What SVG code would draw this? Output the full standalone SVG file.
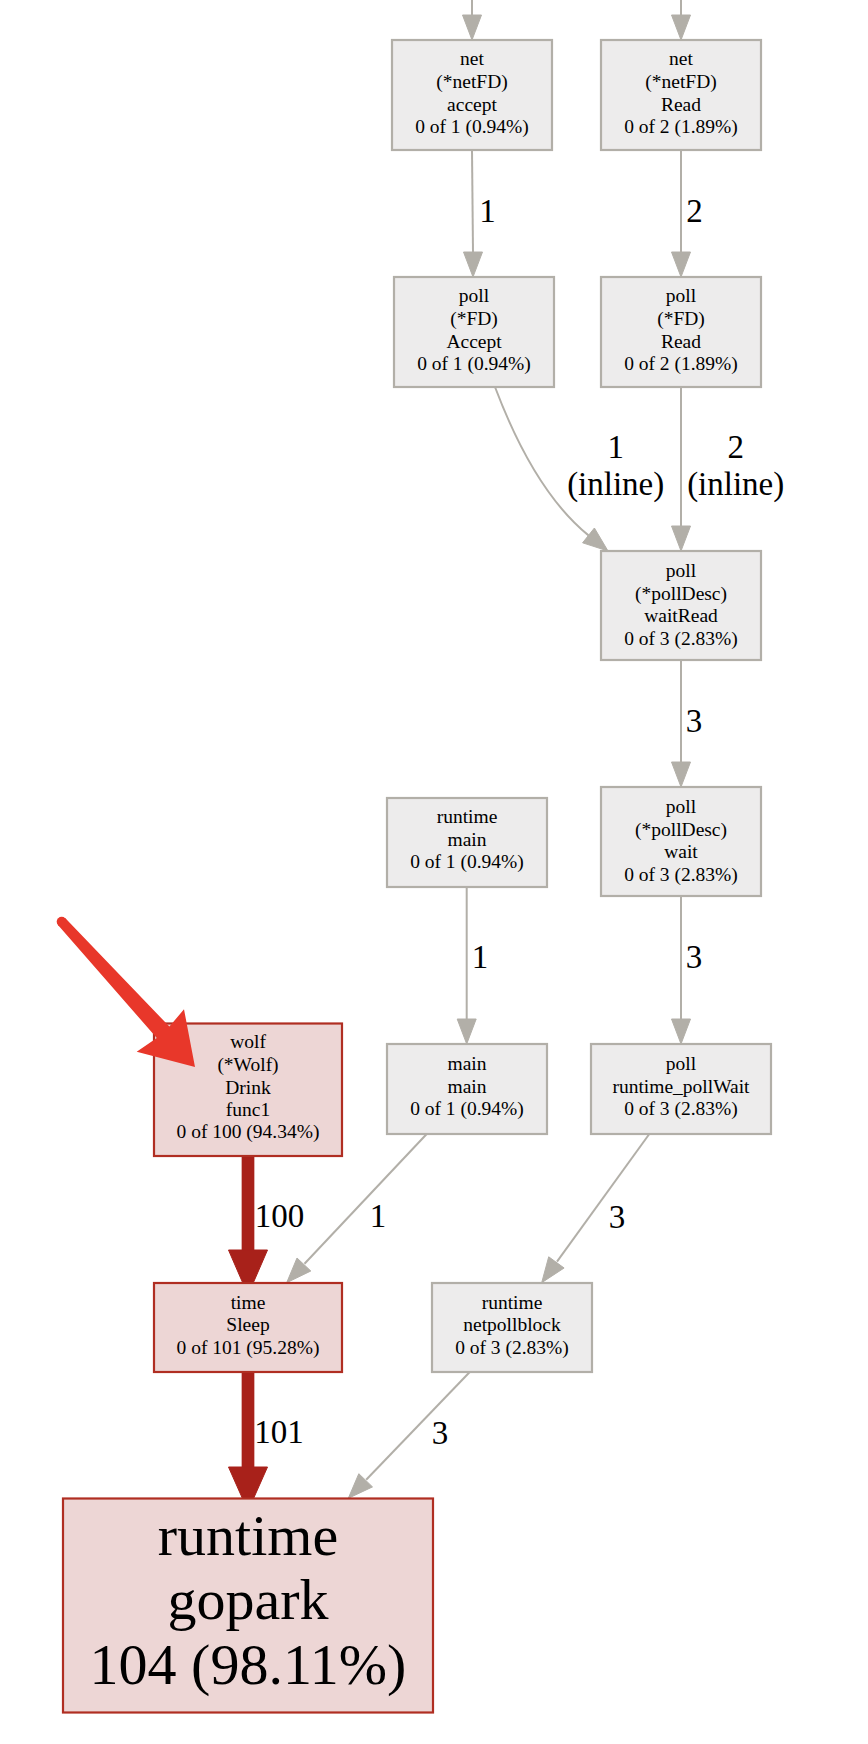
<svg xmlns="http://www.w3.org/2000/svg" width="868" height="1744" viewBox="0 0 868 1744">
<defs>
<style>
.bg{fill:#ffffff}
.gn{fill:#edecec;stroke:#b2afa8;stroke-width:2.2}
.rn{fill:#edd6d5;stroke:#b02e22;stroke-width:2.2}
.t{font-family:"Liberation Serif","Times New Roman",serif;font-size:19.5px;fill:#000;text-anchor:middle}
.big{font-family:"Liberation Serif","Times New Roman",serif;font-size:58px;fill:#000;text-anchor:middle}
.el{font-family:"Liberation Serif","Times New Roman",serif;font-size:33px;fill:#000;text-anchor:middle}
.ge{fill:none;stroke:#b2afa8;stroke-width:2}
.gh{fill:#b2afa8;stroke:#b2afa8;stroke-width:1}
.re{fill:none;stroke:#a8211a;stroke-width:12.7}
.rh{fill:#a8211a;stroke:#a8211a;stroke-width:1}
</style>
</defs>
<rect class="bg" x="0" y="0" width="868" height="1744"/>

<g id="connectors">
  <line class="ge" x1="472" y1="0" x2="472" y2="16"/>
  <polygon class="gh" points="462.5,15 481.5,15 472,40"/>
  <line class="ge" x1="681" y1="0" x2="681" y2="16"/>
  <polygon class="gh" points="671.5,15 690.5,15 681,40"/>
  <line class="ge" x1="472" y1="150" x2="473" y2="253"/>
  <polygon class="gh" points="463.5,252 482.5,252 473,277"/>
  <text class="el" x="487.5" y="222">1</text>
  <line class="ge" x1="681" y1="150" x2="681" y2="253"/>
  <polygon class="gh" points="671.5,252 690.5,252 681,277"/>
  <text class="el" x="694.5" y="222">2</text>
  <path class="ge" d="M495,387 C515,440 545,500 588.5,535.4"/>
  <polygon class="gh" points="582.6,542.8 594.4,528 608,551"/>
  <text class="el" x="615.7" y="458">1</text>
  <text class="el" x="615.7" y="495">(inline)</text>
  <line class="ge" x1="681" y1="387" x2="681" y2="527"/>
  <polygon class="gh" points="671.5,526 690.5,526 681,551"/>
  <text class="el" x="735.7" y="458">2</text>
  <text class="el" x="735.7" y="495">(inline)</text>
  <line class="ge" x1="681" y1="660" x2="681" y2="763"/>
  <polygon class="gh" points="671.5,762 690.5,762 681,787"/>
  <text class="el" x="694" y="731.5">3</text>
  <line class="ge" x1="466.7" y1="887" x2="466.7" y2="1020"/>
  <polygon class="gh" points="457.2,1019 476.2,1019 466.7,1044"/>
  <text class="el" x="480" y="968">1</text>
  <line class="ge" x1="681" y1="896" x2="681" y2="1020"/>
  <polygon class="gh" points="671.5,1019 690.5,1019 681,1044"/>
  <text class="el" x="694" y="967.5">3</text>
  <line class="re" x1="248" y1="1156" x2="248" y2="1252"/>
  <polygon class="rh" points="228.5,1250 267.5,1250 248,1295"/>
  <text class="el" x="279.5" y="1227">100</text>
  <line class="ge" x1="426.7" y1="1134" x2="304.5" y2="1263.8"/>
  <polygon class="gh" points="310.8,1271 297,1258 286.7,1282.7"/>
  <text class="el" x="378" y="1227">1</text>
  <line class="ge" x1="649.3" y1="1134" x2="557" y2="1261.6"/>
  <polygon class="gh" points="564.1,1268 548.7,1256.8 541.7,1282.7"/>
  <text class="el" x="617" y="1227.5">3</text>
  <line class="re" x1="248" y1="1372" x2="248" y2="1469"/>
  <polygon class="rh" points="228.5,1467 267.5,1467 248,1511"/>
  <text class="el" x="279" y="1443">101</text>
  <line class="ge" x1="470" y1="1371.7" x2="366.2" y2="1479.7"/>
  <polygon class="gh" points="372.5,1486.9 358.8,1473.7 348.3,1498.3"/>
  <text class="el" x="440" y="1443.5">3</text>
</g>

<g id="node-net-accept">
  <rect class="gn" x="392" y="40" width="160" height="110"/>
  <text class="t" x="472" y="65">net</text>
  <text class="t" x="472" y="88">(*netFD)</text>
  <text class="t" x="472" y="110.5">accept</text>
  <text class="t" x="472" y="133">0 of 1 (0.94%)</text>
</g>
<g id="node-net-read">
  <rect class="gn" x="601" y="40" width="160" height="110"/>
  <text class="t" x="681" y="65">net</text>
  <text class="t" x="681" y="88">(*netFD)</text>
  <text class="t" x="681" y="110.5">Read</text>
  <text class="t" x="681" y="133">0 of 2 (1.89%)</text>
</g>
<g id="node-poll-accept">
  <rect class="gn" x="394" y="277" width="160" height="110"/>
  <text class="t" x="474" y="302">poll</text>
  <text class="t" x="474" y="325">(*FD)</text>
  <text class="t" x="474" y="347.5">Accept</text>
  <text class="t" x="474" y="370">0 of 1 (0.94%)</text>
</g>
<g id="node-poll-read">
  <rect class="gn" x="601" y="277" width="160" height="110"/>
  <text class="t" x="681" y="302">poll</text>
  <text class="t" x="681" y="325">(*FD)</text>
  <text class="t" x="681" y="347.5">Read</text>
  <text class="t" x="681" y="370">0 of 2 (1.89%)</text>
</g>
<g id="node-waitread">
  <rect class="gn" x="601" y="551" width="160" height="109"/>
  <text class="t" x="681" y="576.5">poll</text>
  <text class="t" x="681" y="599.5">(*pollDesc)</text>
  <text class="t" x="681" y="622">waitRead</text>
  <text class="t" x="681" y="644.5">0 of 3 (2.83%)</text>
</g>
<g id="node-runtime-main">
  <rect class="gn" x="387" y="798" width="160" height="89"/>
  <text class="t" x="467" y="823">runtime</text>
  <text class="t" x="467" y="845.5">main</text>
  <text class="t" x="467" y="868">0 of 1 (0.94%)</text>
</g>
<g id="node-wait">
  <rect class="gn" x="601" y="787" width="160" height="109"/>
  <text class="t" x="681" y="812.5">poll</text>
  <text class="t" x="681" y="835.5">(*pollDesc)</text>
  <text class="t" x="681" y="858">wait</text>
  <text class="t" x="681" y="880.5">0 of 3 (2.83%)</text>
</g>
<g id="node-wolf">
  <rect class="rn" x="154" y="1023.5" width="188" height="132.5"/>
  <text class="t" x="248" y="1048">wolf</text>
  <text class="t" x="248" y="1071">(*Wolf)</text>
  <text class="t" x="248" y="1093.5">Drink</text>
  <text class="t" x="248" y="1115.5">func1</text>
  <text class="t" x="248" y="1138">0 of 100 (94.34%)</text>
</g>
<g id="node-main-main">
  <rect class="gn" x="387" y="1044" width="160" height="90"/>
  <text class="t" x="467" y="1070">main</text>
  <text class="t" x="467" y="1092.5">main</text>
  <text class="t" x="467" y="1115">0 of 1 (0.94%)</text>
</g>
<g id="node-pollwait">
  <rect class="gn" x="591" y="1044" width="180" height="90"/>
  <text class="t" x="681" y="1070">poll</text>
  <text class="t" x="681" y="1092.5">runtime_pollWait</text>
  <text class="t" x="681" y="1115">0 of 3 (2.83%)</text>
</g>
<g id="node-sleep">
  <rect class="rn" x="154" y="1283" width="188" height="89"/>
  <text class="t" x="248" y="1308.5">time</text>
  <text class="t" x="248" y="1331">Sleep</text>
  <text class="t" x="248" y="1353.5">0 of 101 (95.28%)</text>
</g>
<g id="node-netpollblock">
  <rect class="gn" x="432" y="1283" width="160" height="89"/>
  <text class="t" x="512" y="1308.5">runtime</text>
  <text class="t" x="512" y="1331">netpollblock</text>
  <text class="t" x="512" y="1353.5">0 of 3 (2.83%)</text>
</g>
<g id="node-gopark">
  <rect class="rn" x="63" y="1498.5" width="370" height="214"/>
  <text class="big" x="248" y="1555">runtime</text>
  <text class="big" x="248" y="1619">gopark</text>
  <text class="big" x="248" y="1684">104 (98.11%)</text>
</g>

<g id="annotation-arrow">
  <circle cx="61.7" cy="921.7" r="5" fill="#e8372a"/>
  <polygon fill="#e8372a" points="58,925.1 156.8,1038 136.7,1051.7 195,1067 184,1009.3 169.4,1026.6 65.4,918.3"/>
</g>
</svg>
